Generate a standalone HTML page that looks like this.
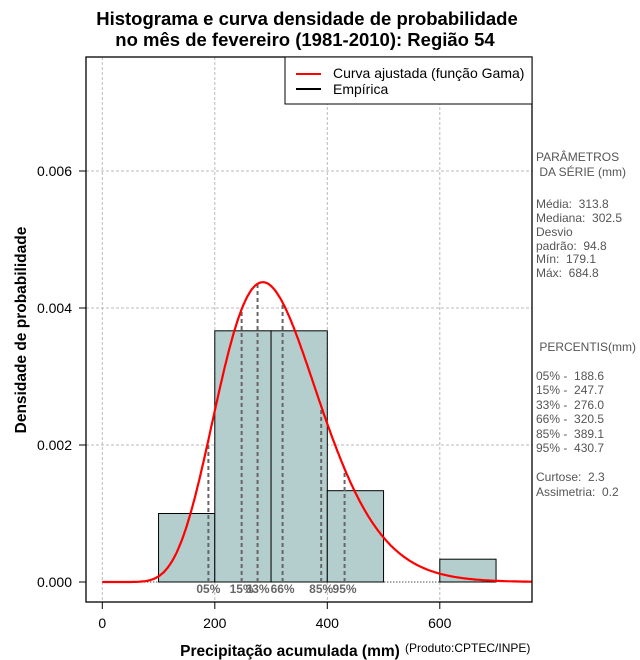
<!DOCTYPE html>
<html><head><meta charset="utf-8"><style>
body{margin:0;background:#fff}
svg{display:block;font-family:"Liberation Sans",sans-serif}
#side text{white-space:pre}
</style></head><body>
<svg width="640" height="660" viewBox="0 0 640 660">
<g font-weight="bold" font-size="18.5" text-anchor="middle">
<text x="307" y="25">Histograma e curva densidade de probabilidade</text>
<text x="305" y="46">no mês de fevereiro (1981-2010): Região 54</text>
</g>
<g id="grid"></g>
<g id="bars"></g>
<g id="pct"></g>
<g id="curve"></g>
<rect x="86" y="57" width="446" height="545" fill="none" stroke="#000" stroke-width="1.3"/>
<g id="axes" font-size="14"></g>
<text x="290" y="656" font-size="15.5" font-weight="bold" text-anchor="middle">Precipitação acumulada (mm)</text>
<text x="405" y="652" font-size="12">(Produto:CPTEC/INPE)</text>
<text transform="translate(26,330) rotate(-90)" font-size="15.5" font-weight="bold" text-anchor="middle">Densidade de probabilidade</text>
<g>
<rect x="285" y="57" width="247" height="47" fill="#fff" stroke="#000" stroke-width="1"/>
<line x1="296" y1="74" x2="321" y2="74" stroke="#f00" stroke-width="2"/>
<line x1="296" y1="89" x2="321" y2="89" stroke="#000" stroke-width="2"/>
<text x="333" y="78" font-size="14">Curva ajustada (função Gama)</text>
<text x="333" y="94" font-size="14">Empírica</text>
</g>
<g id="side" font-size="12" fill="#555"></g>
</svg>
<script>
const binStarts=[100,200,300,400,600];
const binEnds=[200,300,400,500,700];
const densities=[0.001,0.003667,0.003667,0.001333,0.000333];
const xTicks=[0,200,400,600];
const yTicks=[0,0.002,0.004,0.006];
const yTickLabels=["0.000","0.002","0.004","0.006"];
const gammaShape=[10.96];
const gammaScale=[28.64];
const pctValues=[188.6,247.7,276.0,320.5,389.1,430.7];
const pctLabels=["05%","15%","33%","66%","85%","95%"];
const sideLines=[["PARÂMETROS",157],[" DA SÉRIE (mm)",172],["Média:  313.8",204],["Mediana:  302.5",218],["Desvio",232],["padrão:  94.8",246],["Mín:  179.1",259],["Máx:  684.8",273],[" PERCENTIS(mm)",347],["05% -  188.6",376],["15% -  247.7",390],["33% -  276.0",405],["66% -  320.5",419],["85% -  389.1",434],["95% -  430.7",448],["Curtose:  2.3",477],["Assimetria:  0.2",492]];
const NS="http://www.w3.org/2000/svg";
const X=v=>102.3+v*0.5625, Y=v=>582-v*68500;
function mk(t,a,p){const e=document.createElementNS(NS,t);for(const k in a)e.setAttribute(k,a[k]);p.appendChild(e);return e;}
function lnGamma(z){const g=7,c=[0.99999999999980993,676.5203681218851,-1259.1392167224028,771.32342877765313,-176.61502916214059,12.507343278686905,-0.13857109526572012,9.9843695780195716e-6,1.5056327351493116e-7];z-=1;let x=c[0];for(let i=1;i<9;i++)x+=c[i]/(z+i);const t=z+g+0.5;return 0.5*Math.log(2*Math.PI)+(z+0.5)*Math.log(t)-t+Math.log(x);}
function pdf(x){const k=gammaShape[0],th=gammaScale[0];if(x<=0)return 0;return Math.exp((k-1)*Math.log(x)-x/th-lnGamma(k)-k*Math.log(th));}
const grid=document.getElementById('grid');
xTicks.forEach(v=>{const l=mk('line',{x1:X(v),x2:X(v),y1:57,y2:602,stroke:'#bbb','stroke-dasharray':'3,2'},grid);});
yTicks.slice(1).forEach(v=>{const l=mk('line',{x1:86,x2:532,y1:Y(v),y2:Y(v),stroke:'#bbb','stroke-dasharray':'3,2'},grid);});
const bars=document.getElementById('bars');
binStarts.forEach((s,i)=>{const r=mk('rect',{x:X(s),y:Y(densities[i]),width:X(binEnds[i])-X(s),height:582-Y(densities[i]),fill:'#b4cece',stroke:'#000','stroke-width':1},bars);});
const bl=mk('line',{x1:X(0),x2:X(700),y1:582,y2:582,stroke:'#000','stroke-dasharray':'1,2'},bars);


const pct=document.getElementById('pct');
pctValues.forEach((v,i)=>{const l=mk('line',{x1:X(v),x2:X(v),y1:582,y2:Y(pdf(v)),stroke:'#666','stroke-width':2,'stroke-dasharray':'4,3'},pct);
const t=mk('text',{x:X(v),y:593,'font-size':12,'font-weight':'bold',fill:'#666','text-anchor':'middle'},pct);t.textContent=pctLabels[i];});
let d='';for(let x=0;x<=770;x+=2){d+=(x?'L':'M')+X(x).toFixed(1)+','+Y(pdf(x)).toFixed(1);}
const cp=mk('clipPath',{id:'cl'},document.querySelector('svg'));mk('rect',{x:86,y:57,width:446,height:545},cp);
const cv=mk('path',{d:d,fill:'none',stroke:'#f00','stroke-width':2.2,'clip-path':'url(#cl)'},document.getElementById('curve'));


const ax=document.getElementById('axes');
xTicks.forEach(v=>{mk('line',{x1:X(v),x2:X(v),y1:602,y2:609,stroke:'#000'},ax);const t=mk('text',{x:X(v),y:628,'text-anchor':'middle'},ax);t.textContent=v;});
yTicks.forEach((v,i)=>{mk('line',{x1:79,x2:86,y1:Y(v),y2:Y(v),stroke:'#000'},ax);const t=mk('text',{x:72,y:Y(v)+5,'text-anchor':'end'},ax);t.textContent=yTickLabels[i];});
const side=document.getElementById('side');
sideLines.forEach(s=>{const t=mk('text',{x:536,y:s[1]+4},side);t.textContent=s[0];});
</script>
</body></html>
